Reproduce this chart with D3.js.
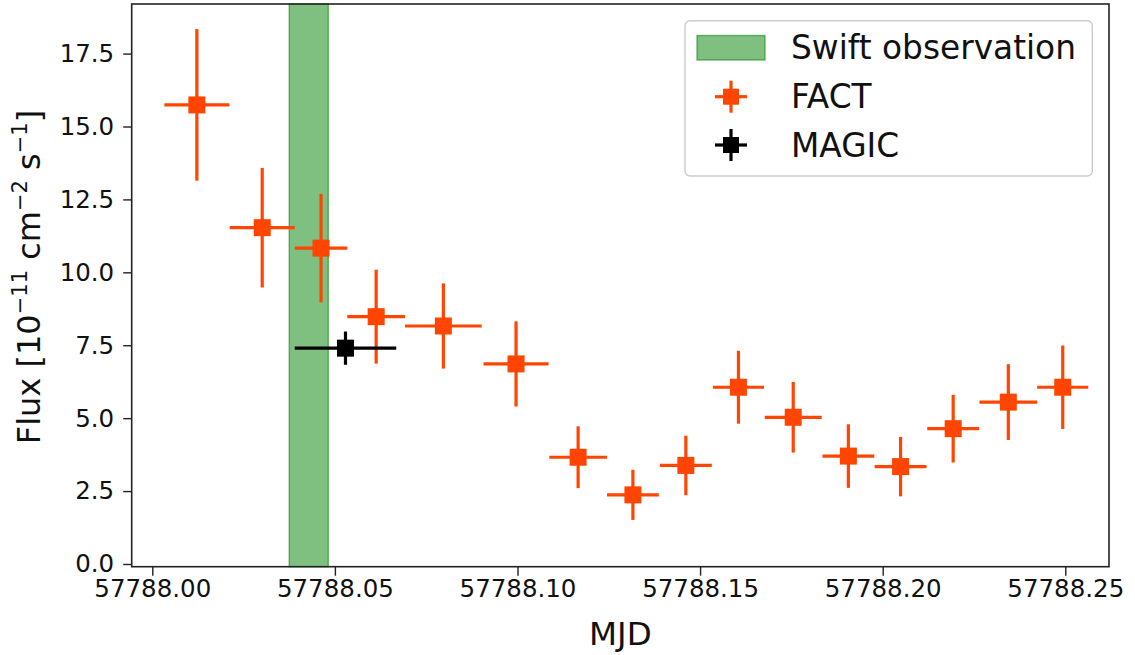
<!DOCTYPE html>
<html>
<head>
<meta charset="utf-8">
<script src="https://cdn.jsdelivr.net/npm/d3@7"></script>
<style>
  html, body { margin: 0; padding: 0; background: #fff; }
  svg { display: block; font-family: "DejaVu Sans", sans-serif; }
</style>
</head>
<body>
<svg id="chart" width="1135" height="655"></svg>
<script>
// ---- Data ----
const factMJD  = [57788.0122, 57788.0301, 57788.0462, 57788.0613, 57788.0797, 57788.0996, 57788.1166, 57788.1316,
                  57788.1461, 57788.1605, 57788.1755, 57788.1906, 57788.2049, 57788.2193, 57788.2344, 57788.2493];
const factXerr = [0.0089, 0.0089, 0.0072, 0.0079, 0.0105, 0.0089, 0.0079, 0.0071,
                  0.0071, 0.0070, 0.0078, 0.0071, 0.0071, 0.0071, 0.0079, 0.0070];
const factFlux = [15.74, 11.53, 10.83, 8.48, 8.16, 6.86, 3.66, 2.37,
                  3.38, 6.06, 5.03, 3.70, 3.34, 4.64, 5.55, 6.06];
const factFerr = [2.60, 2.05, 1.86, 1.61, 1.46, 1.46, 1.06, 0.86,
                  1.02, 1.25, 1.21, 1.09, 1.02, 1.16, 1.30, 1.43];

const magicMJD  = [57788.0529];
const magicXerr = [0.0139];
const magicFlux = [7.40];
const magicFerr = [0.57];

const swiftStart = 57788.0375;
const swiftEnd   = 57788.0482;

const xTicks = [57788.00, 57788.05, 57788.10, 57788.15, 57788.20, 57788.25];
const yTicks = [0.0, 2.5, 5.0, 7.5, 10.0, 12.5, 15.0, 17.5];

const legendLabels = ["Swift observation", "FACT", "MAGIC"];

// ---- Layout ----
const svg = d3.select("#chart");
const L = 131.7, R = 1109, T = 4, B = 566.7;
const FACT_COLOR = "#ff4500";

const x = d3.scaleLinear().domain([57787.99436, 57788.26197]).range([L, R]);
const y = d3.scaleLinear().domain([-0.093, 19.2]).range([B, T]);

// Swift band
svg.append("rect")
  .attr("x", x(swiftStart)).attr("y", T)
  .attr("width", x(swiftEnd) - x(swiftStart)).attr("height", B - T)
  .attr("fill", "green").attr("fill-opacity", 0.5)
  .attr("stroke", "green").attr("stroke-opacity", 0.5).attr("stroke-width", 1.5);

function drawErr(g, xs, xe, ys, ye, color, msize) {
  const pts = xs.map((d, i) => ({x: d, xe: xe[i], y: ys[i], ye: ye[i]}));
  g.selectAll(null).data(pts).enter().append("line")
    .attr("x1", d => x(d.x - d.xe)).attr("x2", d => x(d.x + d.xe))
    .attr("y1", d => y(d.y)).attr("y2", d => y(d.y))
    .attr("stroke", color).attr("stroke-width", 3.2);
  g.selectAll(null).data(pts).enter().append("line")
    .attr("x1", d => x(d.x)).attr("x2", d => x(d.x))
    .attr("y1", d => y(d.y - d.ye)).attr("y2", d => y(d.y + d.ye))
    .attr("stroke", color).attr("stroke-width", 3.2);
  g.selectAll(null).data(pts).enter().append("rect")
    .attr("x", d => x(d.x) - msize / 2).attr("y", d => y(d.y) - msize / 2)
    .attr("width", msize).attr("height", msize)
    .attr("fill", color);
}

drawErr(svg.append("g"), factMJD, factXerr, factFlux, factFerr, FACT_COLOR, 17);
drawErr(svg.append("g"), magicMJD, magicXerr, magicFlux, magicFerr, "#000", 17);

// Axes
const xAxis = d3.axisBottom(x).tickValues(xTicks).tickFormat(d3.format(".2f")).tickSize(9).tickPadding(4);
const yAxis = d3.axisLeft(y).tickValues(yTicks).tickFormat(d3.format(".1f")).tickSize(8.5).tickPadding(9);

const gx = svg.append("g").attr("transform", `translate(0,${B})`).call(xAxis);
const gy = svg.append("g").attr("transform", `translate(${L},0)`).call(yAxis);
[gx, gy].forEach(g => {
  g.select(".domain").remove();
  g.selectAll(".tick line").attr("stroke", "#222").attr("stroke-width", 1.4);
  g.selectAll(".tick text").attr("fill", "#111").style("font-size", "24.5px")
    .style("font-family", "'DejaVu Sans', sans-serif");
});

// Frame
svg.append("rect").attr("x", L).attr("y", T).attr("width", R - L).attr("height", B - T)
  .attr("fill", "none").attr("stroke", "#222").attr("stroke-width", 1.6);

// Axis labels
svg.append("text").attr("x", (L + R) / 2).attr("y", 645)
  .attr("text-anchor", "middle").style("font-size", "32.5px").attr("fill", "#111").text("MJD");

const yl = svg.append("text")
  .attr("transform", "translate(40,277) rotate(-90)")
  .attr("text-anchor", "middle").style("font-size", "32px").attr("fill", "#111");
const supDy = -13, sup = "21px";
yl.append("tspan").text("Flux [10");
yl.append("tspan").attr("dy", supDy).style("font-size", sup).text("\u221211");
yl.append("tspan").attr("dy", -supDy).text(" cm");
yl.append("tspan").attr("dy", supDy).style("font-size", sup).text("\u22122");
yl.append("tspan").attr("dy", -supDy).text(" s");
yl.append("tspan").attr("dy", supDy).style("font-size", sup).text("\u22121");
yl.append("tspan").attr("dy", -supDy).text("]");

// Legend
const lg = svg.append("g");
lg.append("rect").attr("x", 685).attr("y", 20.7).attr("width", 407.3).attr("height", 155.3)
  .attr("rx", 5).attr("fill", "#fff").attr("fill-opacity", 0.8)
  .attr("stroke", "#cccccc").attr("stroke-width", 1.4);
lg.append("rect").attr("x", 697).attr("y", 35.5).attr("width", 68).attr("height", 24.5)
  .attr("fill", "green").attr("fill-opacity", 0.5)
  .attr("stroke", "green").attr("stroke-opacity", 0.5).attr("stroke-width", 1.5);
const rowsY = [59.3, 108.3, 156.8];
const markY = [null, 96.7, 145];
const markColors = [null, FACT_COLOR, "#000"];
[1, 2].forEach(i => {
  const cx = 731, cy = markY[i], c = markColors[i];
  lg.append("line").attr("x1", cx - 16).attr("x2", cx + 16).attr("y1", cy).attr("y2", cy)
    .attr("stroke", c).attr("stroke-width", 3.2);
  lg.append("line").attr("x1", cx).attr("x2", cx).attr("y1", cy - 16).attr("y2", cy + 16)
    .attr("stroke", c).attr("stroke-width", 3.2);
  lg.append("rect").attr("x", cx - 8).attr("y", cy - 8).attr("width", 16).attr("height", 16).attr("fill", c);
});
legendLabels.forEach((t, i) => {
  lg.append("text").attr("x", 791).attr("y", rowsY[i]).style("font-size", "32.8px")
    .attr("fill", "#111").text(t);
});
</script>
</body>
</html>
